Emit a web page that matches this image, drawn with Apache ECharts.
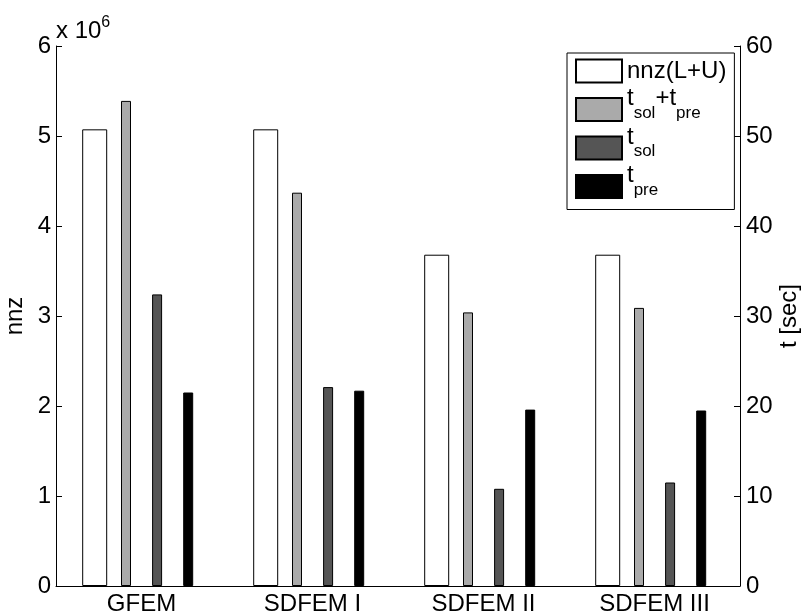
<!DOCTYPE html>
<html>
<head>
<meta charset="utf-8">
<script src="https://cdn.jsdelivr.net/npm/echarts@6/dist/echarts.min.js"></script>
<style>
  html, body { margin: 0; padding: 0; background: #fff; }
  #chart { width: 803px; height: 614px; }
</style>
</head>
<body>
<div id="chart"></div>
<script>
const categories = ['GFEM', 'SDFEM I', 'SDFEM II', 'SDFEM III']
const nnzValues = [5.074e6, 5.074e6, 3.681e6, 3.681e6]
const tSolPre = [53.9, 43.7, 30.4, 30.9]
const tSol = [32.4, 22.1, 10.8, 11.5]
const tPre = [21.5, 21.7, 19.6, 19.5]
const nnzTicks = [0, 6e6, 1e6]
const tTicks = [0, 60, 10]

const FONT = 'Liberation Sans, Arial, sans-serif'
const FS = 24
const black = '#000'

const chart = echarts.init(document.getElementById('chart'), null, { renderer: 'canvas' })

// main grid carries the visible axes; the two shifted grids place the bars like matlab did
const gridTop = 46
const gridBottom = 28
const gridLeft = 56
const gridRight = 63
const nnzShift = -46.8
const timeShift = 15.6

const legendNames = {
  'nnz(L+U)': '{n|nnz(L+U)}',
  't_sol+t_pre': '{b|t}{s|sol}{b|+t}{s|pre}',
  't_sol': '{b|t}{s|sol}',
  't_pre': '{b|t}{s|pre}'
}

const barStyle = color => ({ color: color, borderColor: black, borderWidth: 1 })

const makeGrid = shift => ({
  left: gridLeft + shift,
  right: gridRight - shift,
  top: gridTop,
  bottom: gridBottom,
  outerBoundsMode: 'none'
})

const option = {
  animation: false,
  backgroundColor: '#fff',
  textStyle: { fontFamily: FONT },
  title: {
    text: 'x 10{sup|6}',
    left: 51,
    top: 10,
    textStyle: {
      fontFamily: FONT,
      fontSize: FS,
      fontWeight: 'normal',
      color: black,
      rich: {
        sup: { fontFamily: FONT, fontSize: 16, color: black, padding: [0, 0, 16, 0] }
      }
    }
  },
  legend: {
    orient: 'vertical',
    left: 567,
    top: 53,
    itemWidth: 46,
    itemHeight: 23,
    itemGap: -7.5,
    padding: [-5, 8, 0, 8],
    borderColor: black,
    borderWidth: 1,
    backgroundColor: '#fff',
    selectedMode: false,
    icon: 'rect',
    data: Object.keys(legendNames),
    formatter: name => legendNames[name],
    textStyle: {
      fontFamily: FONT,
      color: black,
      rich: {
        n: { fontFamily: FONT, fontSize: FS, color: black, padding: [11, 0, 11, 0], lineHeight: 46 },
        b: { fontFamily: FONT, fontSize: FS, color: black, padding: [0, 0, 22, 0], lineHeight: 46 },
        s: { fontFamily: FONT, fontSize: 17, color: black, padding: [7, 0, 0, 0], lineHeight: 46 }
      }
    }
  },
  grid: [makeGrid(0), makeGrid(nnzShift), makeGrid(timeShift)],
  xAxis: [
    {
      type: 'category',
      gridIndex: 0,
      data: categories,
      axisLine: { lineStyle: { color: black, width: 1 } },
      axisTick: { inside: true, alignWithLabel: true, length: 7, lineStyle: { color: black } },
      axisLabel: { fontFamily: FONT, fontSize: FS, color: black, margin: 6 },
      splitLine: { show: false }
    },
    { type: 'category', gridIndex: 1, data: categories, show: false },
    { type: 'category', gridIndex: 2, data: categories, show: false }
  ],
  yAxis: [
    {
      type: 'value',
      gridIndex: 0,
      position: 'left',
      min: nnzTicks[0],
      max: nnzTicks[1],
      interval: nnzTicks[2],
      name: 'nnz',
      nameLocation: 'middle',
      nameRotate: 90,
      nameGap: 29,
      nameMoveOverlap: false,
      nameTextStyle: { fontFamily: FONT, fontSize: FS, color: black },
      axisLine: { show: true, lineStyle: { color: black, width: 1 } },
      axisTick: { show: true, inside: true, length: 6, lineStyle: { color: black } },
      axisLabel: { fontFamily: FONT, fontSize: FS, color: black, margin: 5, formatter: v => String(v / 1e6) },
      splitLine: { show: false }
    },
    {
      type: 'value',
      gridIndex: 0,
      position: 'right',
      min: tTicks[0],
      max: tTicks[1],
      interval: tTicks[2],
      name: 't [sec]',
      nameLocation: 'middle',
      nameRotate: 90,
      nameGap: 37,
      nameMoveOverlap: false,
      nameTextStyle: { fontFamily: FONT, fontSize: FS, color: black },
      axisLine: { show: true, lineStyle: { color: black, width: 1 } },
      axisTick: { show: true, inside: true, length: 6, lineStyle: { color: black } },
      axisLabel: { fontFamily: FONT, fontSize: FS, color: black, margin: 6 },
      splitLine: { show: false }
    },
    { type: 'value', gridIndex: 1, min: nnzTicks[0], max: nnzTicks[1], show: false, splitLine: { show: false } },
    { type: 'value', gridIndex: 2, min: tTicks[0], max: tTicks[1], show: false, splitLine: { show: false } }
  ],
  series: [
    {
      name: 'nnz(L+U)',
      type: 'bar',
      xAxisIndex: 1,
      yAxisIndex: 2,
      data: nnzValues,
      barWidth: 25,
      itemStyle: barStyle('#fff')
    },
    {
      name: 't_sol+t_pre',
      type: 'bar',
      xAxisIndex: 2,
      yAxisIndex: 3,
      data: tSolPre,
      barWidth: 10,
      barGap: '211%',
      itemStyle: barStyle('#aaaaaa')
    },
    {
      name: 't_sol',
      type: 'bar',
      xAxisIndex: 2,
      yAxisIndex: 3,
      data: tSol,
      barWidth: 10,
      barGap: '211%',
      itemStyle: barStyle('#555555')
    },
    {
      name: 't_pre',
      type: 'bar',
      xAxisIndex: 2,
      yAxisIndex: 3,
      data: tPre,
      barWidth: 10,
      barGap: '211%',
      itemStyle: barStyle('#000000')
    }
  ]
}

chart.setOption(option)
</script>
</body>
</html>
